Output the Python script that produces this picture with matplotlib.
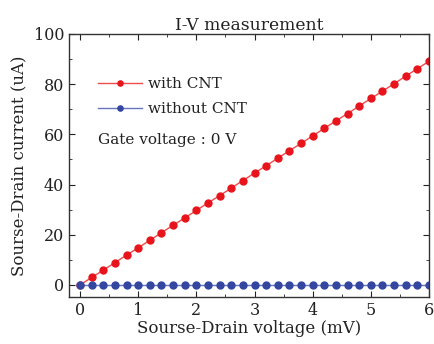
import matplotlib
matplotlib.use("Agg")
import matplotlib.pyplot as plt
from matplotlib.ticker import MultipleLocator

voltage = [round(0.2 * i, 1) for i in range(31)]
with_cnt = [0, 3.0, 5.9, 8.9, 11.9, 14.8, 17.8, 20.8, 23.8, 26.7, 29.7, 32.7, 35.6,
            38.6, 41.6, 44.6, 47.5, 50.5, 53.5, 56.4, 59.4, 62.4, 65.4, 68.3, 71.3,
            74.3, 77.2, 80.2, 83.2, 86.2, 89.1]
without_cnt = [0] * 31

plt.rcParams['font.family'] = ['DejaVu Serif']
fig = plt.figure(figsize=(4.35, 3.44), dpi=100)
ax = fig.add_axes([69/435, 1 - 297/344, (429-69)/435, (297-34)/344])

ax.plot(voltage, with_cnt, color='#f34a4a', lw=1, marker='o', ms=5,
        mfc='#e8141c', mec='#e8141c', label='with CNT')
ax.plot(voltage, without_cnt, color='#6675c0', lw=1, marker='o', ms=5,
        mfc='#3346a0', mec='#3346a0', label='without CNT')

ax.set_xlim(-0.19, 6)
ax.set_ylim(-4.8, 100)
ax.xaxis.set_major_locator(MultipleLocator(1))
ax.xaxis.set_minor_locator(MultipleLocator(0.5))
ax.yaxis.set_major_locator(MultipleLocator(20))
ax.yaxis.set_minor_locator(MultipleLocator(10))
ax.tick_params(which='both', direction='in', top=True, right=True, labelsize=11.5,
               colors='#222222')
ax.tick_params(which='major', length=4)
ax.tick_params(which='minor', length=2.5)
for s in ax.spines.values():
    s.set_linewidth(1)
    s.set_color('#333333')

ax.set_title('I-V measurement', fontsize=12.3, pad=3, color='#222222')
ax.set_xlabel('Sourse-Drain voltage (mV)', fontsize=12, labelpad=1, color='#222222')
ax.set_ylabel('Sourse-Drain current (uA)', fontsize=12, labelpad=4, color='#222222')

leg = ax.legend(loc='upper left', bbox_to_anchor=(0.042, 0.887), frameon=False,
                fontsize=11, handlelength=2.9, labelspacing=0.72, handletextpad=0.4,
                markerscale=0.75)
for t in leg.get_texts():
    t.set_color('#222222')
ax.text(0.08, 0.597, 'Gate voltage : 0 V', transform=ax.transAxes, fontsize=11,
        va='center', color='#222222')

fig.savefig('out.png', dpi=100)
